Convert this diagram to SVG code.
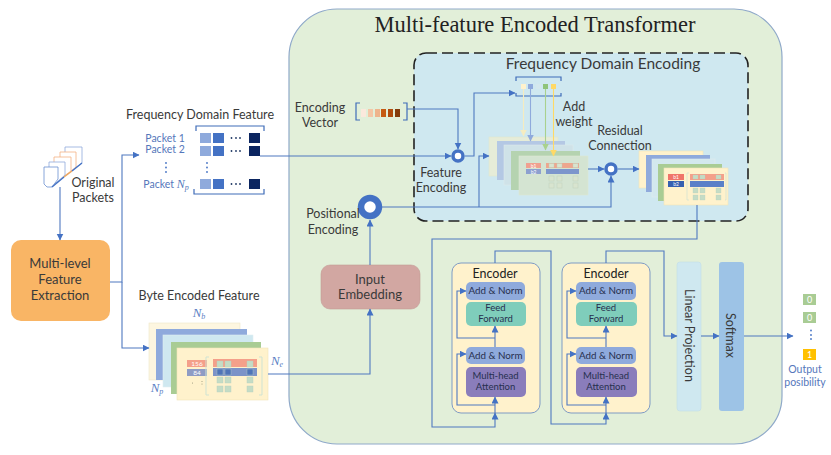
<svg xmlns="http://www.w3.org/2000/svg" width="831" height="455" viewBox="0 0 831 455">
<style>
text{font-family:Lato,"Liberation Sans",sans-serif;fill:#3a3a3a;text-anchor:middle}
.l{font-size:12.5px}
.k{font-size:13px}
.b{font-size:10.500px;fill:#5577bb}
.e{font-size:9.800px;fill:#27304f}
.m{font-size:9.500px;fill:#27304f}
.n{font-family:"Liberation Serif",serif;font-style:italic;font-size:13px;fill:#5b7fc4}
.c{fill:none;stroke:#4f78c0;stroke-width:1.1}
.t{fill:none;stroke:#3f6cb8;stroke-width:1.2}
.w{font-size:5px;fill:#fff}
</style>
<defs>
<marker id="a" markerWidth="8" markerHeight="8" refX="6.500" refY="3.500" orient="auto" markerUnits="userSpaceOnUse"><path d="M0 0L7 3.500L0 7z" fill="#4472c4"/></marker>
<marker id="ay" markerWidth="8" markerHeight="8" refX="6.500" refY="3.500" orient="auto" markerUnits="userSpaceOnUse"><path d="M0 0L7 3.500L0 7z" fill="#f6ecc0"/></marker>
<marker id="ag" markerWidth="8" markerHeight="8" refX="6.500" refY="3.500" orient="auto" markerUnits="userSpaceOnUse"><path d="M0 0L7 3.500L0 7z" fill="#a9d18e"/></marker>
<marker id="ab" markerWidth="8" markerHeight="8" refX="6.500" refY="3.500" orient="auto" markerUnits="userSpaceOnUse"><path d="M0 0L7 3.500L0 7z" fill="#8faadc"/></marker>
<marker id="ao" markerWidth="8" markerHeight="8" refX="6.500" refY="3.500" orient="auto" markerUnits="userSpaceOnUse"><path d="M0 0L7 3.500L0 7z" fill="#ffd966"/></marker>
</defs>
<rect width="831" height="455" fill="#fff"/>

<g id="transformer">
<rect x="289" y="9" width="493" height="435" rx="48" fill="#e2efd9" stroke="#8fa9c9" stroke-width="1.2"/>
<text x="535" y="32" style="font-family:'Liberation Serif',serif;font-size:22.500px;fill:#222">Multi-feature Encoded Transformer</text>
</g>
<g id="frequency-domain-encoding">
<rect x="414" y="53" width="334" height="168" rx="12" fill="#cfe8f0" stroke="#222" stroke-width="1.6" stroke-dasharray="11 5"/>
<text x="603" y="69" style="font-size:15.500px">Frequency Domain Encoding</text>
</g>

<g id="original-packets">
<g fill="#fff" stroke-width="0.8">
<path d="M65 147H82V163L71 171H65z" stroke="#8faadc"/>
<path d="M60 152H76V167L66 175H60z" stroke="#f4b183"/>
<path d="M54 157H71V171L60 179H54z" stroke="#f4b183"/>
<path d="M49 162H65V175L56 183H49z" stroke="#8faadc"/>
<path d="M44 167H58V179L52 187H47L44 184z" stroke="#6b8fd0"/>
</g>
<path d="M52 187L64 177" stroke="#4472c4" stroke-width="1.4" fill="none"/>
<path d="M64 177L72 171" stroke="#e9a45c" stroke-width="1.4" fill="none"/>
<path d="M72 171L82 163" stroke="#4472c4" stroke-width="1.4" fill="none"/>
<text class="l" x="93" y="187">Original</text>
<text class="l" x="93" y="202">Packets</text>
</g>

<g id="feature-extraction">
<rect x="11" y="240" width="99" height="81" rx="10" fill="#f9b565"/>
<text class="k" x="60" y="268">Multi-level</text>
<text class="k" x="60" y="284">Feature</text>
<text class="k" x="60" y="300">Extraction</text>
</g>

<g id="frequency-domain-feature">
<text class="l" x="200" y="119">Frequency Domain Feature</text>
<path class="t" d="M196 131V126H264V131M194 189V194H264V189"/>
<text class="b" x="165" y="142">Packet 1</text>
<text class="b" x="165" y="153">Packet 2</text>
<text class="b" x="166" y="188">Packet <tspan style="font-family:'Liberation Serif',serif;font-style:italic;font-size:12px;fill:#5577bb">N</tspan><tspan style="font-family:'Liberation Serif',serif;font-style:italic;font-size:8px;fill:#5577bb" dy="2">p</tspan></text>
<g fill="#8faadc"><rect x="200" y="133" width="11" height="10"/><rect x="200" y="146" width="11" height="10"/><rect x="200" y="179" width="11" height="10"/></g>
<g fill="#4472c4"><rect x="213" y="133" width="11" height="10"/><rect x="213" y="146" width="11" height="10"/><rect x="213" y="179" width="11" height="10"/></g>
<g fill="#0b2560"><rect x="249" y="133" width="11" height="10"/><rect x="249" y="146" width="11" height="10"/><rect x="249" y="179" width="11" height="10"/></g>
<g fill="#1f3864"><circle cx="231.500" cy="138" r="0.900"/><circle cx="236" cy="138" r="0.900"/><circle cx="240" cy="138" r="0.900"/><circle cx="231.500" cy="151" r="0.900"/><circle cx="236" cy="151" r="0.900"/><circle cx="240" cy="151" r="0.900"/><circle cx="231.500" cy="184" r="0.900"/><circle cx="236" cy="184" r="0.900"/><circle cx="240" cy="184" r="0.900"/></g>
<g fill="#4472c4"><circle cx="166" cy="163" r="0.900"/><circle cx="166" cy="167.500" r="0.900"/><circle cx="166" cy="172" r="0.900"/><circle cx="207" cy="163" r="0.900"/><circle cx="207" cy="167.500" r="0.900"/><circle cx="207" cy="172" r="0.900"/></g>
</g>

<g id="byte-encoded-feature">
<text class="l" x="199" y="300">Byte Encoded Feature</text>
<text class="n" x="199" y="317">N<tspan font-size="8" dy="2">b</tspan></text>
<text class="n" x="157" y="392">N<tspan font-size="8" dy="2">p</tspan></text>
<text class="n" x="277" y="365">N<tspan font-size="8" dy="2">e</tspan></text>
<rect x="149" y="323" width="91" height="57" fill="#fdf6e0" stroke="#efe6c8" stroke-width="0.600"/>
<rect x="156" y="329" width="91" height="51" fill="#8faadc"/>
<rect x="163" y="335" width="90" height="52" fill="#cfe8f0" stroke="#e0eef2" stroke-width="0.600"/>
<rect x="171" y="342" width="90" height="52" fill="#a9cc94"/>
<rect x="177" y="348" width="91" height="52" fill="#fff2cc" stroke="#f1e4b8" stroke-width="0.600"/>
<rect x="187" y="360" width="20" height="7" fill="#f4a08a"/><text x="197" y="366" style="font-size:6.500px;fill:#fff">156</text>
<rect x="187" y="369" width="20" height="7" fill="#8f9cc4"/><text x="197" y="375" style="font-size:6.500px;fill:#fff">84</text>
<g fill="#8a8a70"><circle cx="192.500" cy="383" r="0.500"/><circle cx="202" cy="381.500" r="0.500"/><circle cx="202" cy="384" r="0.500"/></g>
<path d="M209 357H206V395H209M259 357H262V395H259" fill="none" stroke="#cfe3d3"/>
<rect x="213" y="359" width="44" height="8" fill="#f4a08a"/>
<rect x="213" y="368" width="44" height="8" fill="#7c93c8"/>
<g fill="#c5dcc5" stroke="#b6cfc0" stroke-width="0.400">
<rect x="217" y="361" width="6" height="6"/><rect x="225" y="361" width="6" height="6"/><rect x="247" y="361" width="6" height="6"/>
<rect x="217" y="369" width="6" height="6" fill="#4f74b8"/><rect x="225" y="369" width="6" height="6" fill="#4f74b8"/><rect x="247" y="369" width="6" height="6" fill="#4f74b8"/>
<rect x="217" y="377" width="6" height="6"/><rect x="225" y="377" width="6" height="6"/><rect x="247" y="377" width="6" height="6"/>
<rect x="217" y="386" width="6" height="6"/><rect x="225" y="386" width="6" height="6"/><rect x="247" y="386" width="6" height="6"/>
</g>
</g>

<g id="encoding-vector">
<text class="l" x="320" y="112">Encoding</text>
<text class="l" x="320" y="127">Vector</text>
<path class="t" d="M360 103H356V120H360M403 103H407V120H403"/>
<rect x="361" y="109" width="5" height="8" fill="#fbe9dc"/>
<rect x="368" y="109" width="5" height="8" fill="#f4c7a6"/>
<rect x="375" y="109" width="5" height="8" fill="#eeb48c"/>
<rect x="381" y="109" width="5" height="8" fill="#c55a11"/>
<rect x="388" y="109" width="5" height="8" fill="#b04c0e"/>
<rect x="395" y="109" width="5" height="8" fill="#843c0c"/>
</g>

<g id="feature-encoding">
<circle cx="458" cy="156" r="5" fill="#fff" stroke="#4472c4" stroke-width="3.500"/>
<text class="l" x="441" y="177">Feature</text>
<text class="l" x="441" y="192">Encoding</text>
</g>
<g id="positional-encoding">
<circle cx="370" cy="207" r="9" fill="#fff" stroke="#4472c4" stroke-width="6.500"/>
<text class="l" x="333" y="218">Positional</text>
<text class="l" x="333" y="234">Encoding</text>
</g>
<g id="residual-connection">
<circle cx="611" cy="169" r="5" fill="#fff" stroke="#4472c4" stroke-width="3.500"/>
<text class="l" x="620" y="135">Residual</text>
<text class="l" x="620" y="150">Connection</text>
</g>
<g id="add-weight">
<text class="l" x="574" y="111">Add</text>
<text class="l" x="574" y="126">weight</text>
<path class="t" d="M516 81V77H561V81M516 93V96H561V93"/>
<rect x="521" y="84" width="5" height="5" fill="#fff2cc"/>
<rect x="528" y="84" width="5" height="5" fill="#8faadc"/>
<rect x="536" y="84" width="5" height="5" fill="#d4e8ee"/>
<rect x="543" y="84" width="5" height="5" fill="#8fc47a"/>
<rect x="551" y="84" width="5" height="5" fill="#ffd966"/>
</g>

<g id="weighted-stack">
<rect x="489" y="137" width="69" height="39" fill="#e6ecd8" stroke="#dfe6d0" stroke-width="0.600"/>
<rect x="497" y="141" width="68" height="39" fill="#b4c8e4"/>
<rect x="504" y="145" width="69" height="40" fill="#cfe2e8" stroke="#dde9ec" stroke-width="0.600"/>
<rect x="511" y="151" width="69" height="39" fill="#b5d3b0"/>
<rect x="519" y="156" width="69" height="39" fill="#d4e4d2" stroke="#dde8d4" stroke-width="0.600"/>
<rect x="526" y="163" width="15" height="5" fill="#f0a090"/><text class="w" x="533.500" y="167.500">b1</text>
<rect x="526" y="169" width="15" height="5" fill="#8da0cf"/><text class="w" x="533.500" y="173.500">b2</text>
<rect x="546" y="163" width="33" height="5" fill="#eda78f"/>
<rect x="546" y="169" width="33" height="5" fill="#7d96cc"/>
<g fill="#d8e4cf" stroke="#bccdb8" stroke-width="0.400"><rect x="549" y="163.500" width="5" height="4"/><rect x="557" y="163.500" width="5" height="4"/><rect x="573" y="163.500" width="5" height="4"/><rect x="549" y="176" width="5" height="5"/><rect x="557" y="176" width="5" height="5"/><rect x="573" y="176" width="5" height="5"/><rect x="549" y="183" width="5" height="5"/><rect x="557" y="183" width="5" height="5"/><rect x="573" y="183" width="5" height="5"/></g>
</g>
<g id="residual-stack">
<rect x="639" y="151" width="64" height="37" fill="#fff2cc" stroke="#f1e4b8" stroke-width="0.600"/>
<rect x="646" y="155" width="64" height="37" fill="#8faadc"/>
<rect x="652" y="159" width="63" height="38" fill="#d3e8ee" stroke="#e0ecef" stroke-width="0.600"/>
<rect x="658" y="164" width="64" height="37" fill="#a9cc94"/>
<rect x="664" y="168" width="64" height="37" fill="#fff2cc" stroke="#f1e4b8" stroke-width="0.600"/>
<rect x="668" y="174" width="16" height="6" fill="#f0756a"/><text class="w" x="676" y="179">b1</text>
<rect x="668" y="181" width="16" height="6" fill="#3760b0"/><text class="w" x="676" y="186">b2</text>
<rect x="690" y="174" width="34" height="6" fill="#f4a08a"/>
<rect x="690" y="181" width="34" height="6" fill="#5b80c8"/>
<path d="M689 173H687V200H689M725 173H726V200H725" fill="none" stroke="#cfe3d3" stroke-width="0.700"/>
<g fill="#c5dcc5" stroke="#b6cfc0" stroke-width="0.300"><rect x="693" y="175" width="5" height="4"/><rect x="700" y="175" width="5" height="4"/><rect x="716" y="175" width="5" height="4"/><rect x="693" y="188" width="5" height="5"/><rect x="700" y="188" width="5" height="5"/><rect x="716" y="188" width="5" height="5"/><rect x="693" y="195" width="5" height="5"/><rect x="700" y="195" width="5" height="5"/><rect x="716" y="195" width="5" height="5"/></g>
</g>

<g id="input-embedding">
<rect x="321" y="265" width="99" height="44" rx="9" fill="#d2a7a2" stroke="#c49a96" stroke-width="0.600"/>
<text class="k" x="370" y="284">Input</text>
<text class="k" x="370" y="299">Embedding</text>
</g>

<g id="encoder-1">
<rect x="452" y="263" width="88" height="150" rx="9" fill="#fff2cc" stroke="#7f9bc4"/>
<text x="495" y="278" style="font-size:12.500px;fill:#222">Encoder</text>
<rect x="466" y="282" width="59" height="18" rx="5" fill="#8faadc"/><text class="e" x="495.500" y="294">Add &amp; Norm</text>
<rect x="466" y="302" width="60" height="24" rx="5" fill="#7fcdbb"/><text class="m" x="495.500" y="311">Feed</text><text class="m" x="495.500" y="322">Forward</text>
<rect x="466" y="347" width="59" height="17" rx="5" fill="#8faadc"/><text class="e" x="495.500" y="358.500">Add &amp; Norm</text>
<rect x="466" y="367" width="60" height="30" rx="5" fill="#8a7dbb"/><text class="m" x="495.500" y="379">Multi-head</text><text class="m" x="495.500" y="390">Attention</text>
</g>
<g id="encoder-2">
<rect x="562" y="263" width="88" height="150" rx="9" fill="#fff2cc" stroke="#7f9bc4"/>
<text x="606" y="278" style="font-size:12.500px;fill:#222">Encoder</text>
<rect x="576" y="282" width="60" height="18" rx="5" fill="#8faadc"/><text class="e" x="606" y="294">Add &amp; Norm</text>
<rect x="576" y="302" width="61" height="24" rx="5" fill="#7fcdbb"/><text class="m" x="606" y="311">Feed</text><text class="m" x="606" y="322">Forward</text>
<rect x="576" y="347" width="60" height="17" rx="5" fill="#8faadc"/><text class="e" x="606" y="358.500">Add &amp; Norm</text>
<rect x="576" y="367" width="61" height="30" rx="5" fill="#8a7dbb"/><text class="m" x="606" y="379">Multi-head</text><text class="m" x="606" y="390">Attention</text>
</g>
<g id="linear-projection">
<rect x="677" y="262" width="24" height="149" rx="3" fill="#cfe8f0" stroke="#c3dde8" stroke-width="0.600"/>
<text x="688.500" y="335.500" transform="rotate(90 688.500 335.500)" dy="4" class="l">Linear Projection</text>
</g>
<g id="softmax">
<rect x="719" y="262" width="25" height="149" rx="3" fill="#9dc3e6"/>
<text x="729.500" y="335.500" transform="rotate(90 729.500 335.500)" dy="4" class="l">Softmax</text>
</g>
<g id="output">
<rect x="803" y="294" width="13" height="11" fill="#a9cc94"/><text x="809.500" y="303" style="font-size:9px;fill:#fff">0</text>
<rect x="803" y="312" width="13" height="11" fill="#a9cc94"/><text x="809.500" y="321" style="font-size:9px;fill:#fff">0</text>
<g fill="#4472c4"><circle cx="811" cy="330.500" r="0.900"/><circle cx="811" cy="335" r="0.900"/><circle cx="811" cy="339" r="0.900"/></g>
<rect x="803" y="349" width="13" height="11" fill="#ffc000"/><text x="809.500" y="358" style="font-size:9px;fill:#fff">1</text>
<text x="805" y="373" style="font-size:10.500px;fill:#5577bb">Output</text>
<text x="805" y="386" style="font-size:10.500px;fill:#5577bb">posibility</text>
</g>

<g id="connectors">
<path class="c" d="M60 187V240" marker-end="url(#a)"/>
<path class="c" d="M110 282H122V155H139" marker-end="url(#a)"/>
<path class="c" d="M122 282V348H149" marker-end="url(#a)"/>
<path class="c" d="M268 374H370V309" marker-end="url(#a)"/>
<path class="c" d="M370 265V220" marker-end="url(#a)"/>
<path class="c" d="M260 156H451" marker-end="url(#a)"/>
<path class="c" d="M407 109H458V149" marker-end="url(#a)"/>
<path class="c" d="M465 156H474V93H515" marker-end="url(#a)"/>
<path class="c" d="M382 207H611V176" marker-end="url(#a)"/>
<path class="c" d="M479 207V156H489" marker-end="url(#a)"/>
<path d="M523.500 89V136" fill="none" stroke="#f6ecc0" stroke-width="1.100" marker-end="url(#ay)"/>
<path d="M530.500 89V141" fill="none" stroke="#8faadc" stroke-width="1.100" marker-end="url(#ab)"/>
<path d="M545.500 89V150" fill="none" stroke="#a9d18e" stroke-width="1.100" marker-end="url(#ag)"/>
<path d="M553.500 89V156" fill="none" stroke="#ffd966" stroke-width="1.100" marker-end="url(#ao)"/>
<path class="c" d="M588 169H604" marker-end="url(#a)"/>
<path class="c" d="M618 169H639" marker-end="url(#a)"/>
<path class="c" d="M697 205V239H432V427H495V413" marker-end="url(#a)"/>
<path class="c" d="M495 263V251H551V424H606V413" marker-end="url(#a)"/>
<path class="c" d="M606 263V251H664V336H677" marker-end="url(#a)"/>
<path class="c" d="M701 336H719" marker-end="url(#a)"/>
<path class="c" d="M744 336H793" marker-end="url(#a)"/>
<path class="c" d="M495 413V397" marker-end="url(#a)"/>
<path class="c" d="M495 405H457V354H466" marker-end="url(#a)"/>
<path class="c" d="M495 347V326" marker-end="url(#a)"/>
<path class="c" d="M495 338H457V291H466" marker-end="url(#a)"/>
<path class="c" d="M606 413V397" marker-end="url(#a)"/>
<path class="c" d="M606 405H567V354H576" marker-end="url(#a)"/>
<path class="c" d="M606 347V326" marker-end="url(#a)"/>
<path class="c" d="M606 338H567V291H576" marker-end="url(#a)"/>
</g>
</svg>
